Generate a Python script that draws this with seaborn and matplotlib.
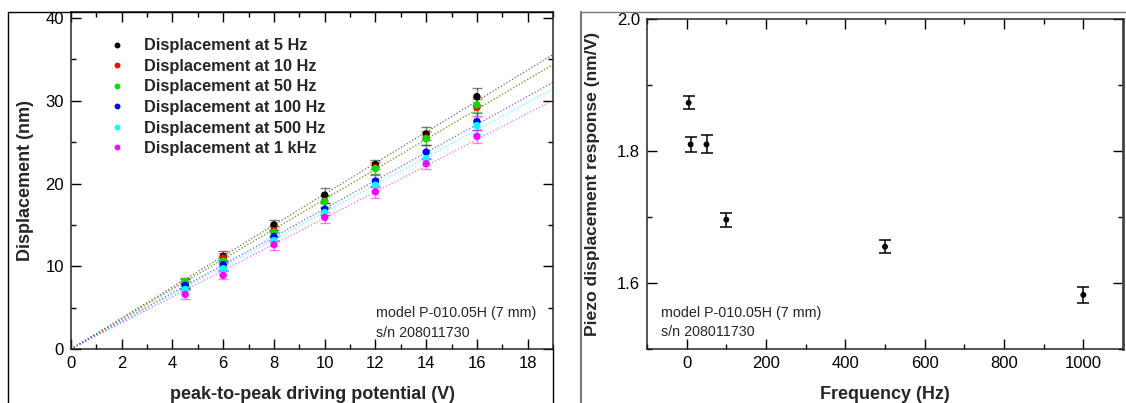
import numpy as np
import pandas as pd
import matplotlib
matplotlib.use("Agg")
import matplotlib.pyplot as plt
import seaborn as sns
from matplotlib.lines import Line2D
from matplotlib.ticker import MultipleLocator

# ---------------- data ----------------
voltage = [4.5, 6, 8, 10, 12, 14, 16]
series_labels = ["Displacement at 5 Hz", "Displacement at 10 Hz", "Displacement at 50 Hz",
                 "Displacement at 100 Hz", "Displacement at 500 Hz", "Displacement at 1 kHz"]
disp_5hz = [7.9, 11.2, 15.0, 18.6, 22.3, 26.0, 30.5]
disp_10hz = [8.0, 11.0, 14.3, 17.9, 21.9, 25.5, 29.2]
disp_50hz = [8.1, 10.6, 14.1, 17.8, 21.8, 25.4, 29.5]
disp_100hz = [7.7, 10.2, 13.6, 16.9, 20.3, 23.8, 27.5]
disp_500hz = [7.2, 9.7, 13.1, 16.5, 19.8, 23.0, 27.0]
disp_1khz = [6.6, 8.9, 12.6, 15.9, 19.0, 22.4, 25.7]
err_5hz = [0.5, 0.6, 0.6, 0.9, 0.6, 0.8, 1.0]
err_10hz = [0.6, 0.6, 0.6, 0.7, 0.7, 0.8, 1.0]
err_50hz = [0.5, 0.6, 0.6, 0.7, 0.7, 0.8, 0.9]
err_100hz = [0.5, 0.6, 0.6, 0.7, 0.7, 0.8, 1.0]
err_500hz = [0.5, 0.6, 0.6, 0.7, 0.7, 0.8, 1.0]
err_1khz = [0.5, 0.5, 0.6, 0.7, 0.7, 0.7, 0.8]

frequency = [5, 10, 50, 100, 500, 1000]
response = [1.873, 1.810, 1.810, 1.696, 1.655, 1.582]
response_err = [0.010, 0.0115, 0.0135, 0.0105, 0.010, 0.012]

annotation = ["model P-010.05H (7 mm)", "s/n 208011730"]

disp_all = [disp_5hz, disp_10hz, disp_50hz, disp_100hz, disp_500hz, disp_1khz]
err_all = [err_5hz, err_10hz, err_50hz, err_100hz, err_500hz, err_1khz]
colors = ["#000000", "#ff0000", "#00e000", "#0000ff", "#00ffff", "#ff00ff"]

# ---------------- style ----------------
sns.set_theme(style="ticks")
plt.rcParams["font.family"] = ["Liberation Sans", "DejaVu Sans"]
plt.rcParams["axes.linewidth"] = 1.1

W, H = 1126, 403
fig = plt.figure(figsize=(W / 100, H / 100), dpi=100)

def px_axes(l, t, r, b):
    return fig.add_axes([l / W, 1 - b / H, (r - l) / W, (b - t) / H])

LABEL_FS = 13
TICK_FS = 12
NOTE_FS = 10.3

# ---------------- left panel ----------------
ax1 = px_axes(71, 12, 553, 349)
rows = []
for lab, d in zip(series_labels, disp_all):
    for v, y in zip(voltage, d):
        rows.append({"V": v, "D": y, "series": lab})
df = pd.DataFrame(rows)

xfit = np.array([0, 19.0])
for slope, c in zip(response, colors):
    fit_df = pd.DataFrame({"V": xfit, "D": slope * xfit})
    sns.lineplot(data=fit_df, x="V", y="D", ax=ax1, color=c, lw=0.9,
                 linestyle=(0, (1, 1.6)), alpha=0.6, legend=False)

for d, e, c in zip(disp_all, err_all, colors):
    ax1.errorbar(voltage, d, yerr=e, fmt="none", ecolor=c, alpha=0.5,
                 elinewidth=1.0, capsize=3.5, capthick=1.0)

sns.scatterplot(data=df, x="V", y="D", hue="series", palette=colors,
                hue_order=series_labels, ax=ax1, s=28, edgecolor="none",
                legend=True, zorder=5)

ax1.set_xlim(0, 19)
ax1.set_ylim(0, 40.73)
ax1.xaxis.set_major_locator(MultipleLocator(2))
ax1.xaxis.set_minor_locator(MultipleLocator(1))
ax1.yaxis.set_major_locator(MultipleLocator(10))
ax1.yaxis.set_minor_locator(MultipleLocator(5))
ax1.set_xlabel("peak-to-peak driving potential (V)", fontsize=LABEL_FS, fontweight="bold", labelpad=11)
ax1.set_ylabel("Displacement (nm)", fontsize=LABEL_FS, fontweight="bold", labelpad=8)

handles, labels = ax1.get_legend_handles_labels()
leg = ax1.legend(handles, labels, loc="upper left", bbox_to_anchor=(0.081, 0.922),
                 frameon=False, borderpad=0, borderaxespad=0, handlelength=0.9,
                 handletextpad=1.15, labelspacing=0.34, markerscale=0.8,
                 prop={"weight": "bold", "size": 11.8, "family": "Liberation Sans"})

ax1.text(0.632, 0.108, annotation[0], transform=ax1.transAxes, fontsize=NOTE_FS, va="center")
ax1.text(0.632, 0.046, annotation[1], transform=ax1.transAxes, fontsize=NOTE_FS, va="center")

# ---------------- right panel ----------------
ax2 = px_axes(647, 19, 1123, 349)
ax2.errorbar(frequency, response, yerr=response_err, fmt="none", ecolor="black",
             elinewidth=1.1, capsize=4, capthick=1.1)
sns.scatterplot(x=frequency, y=response, ax=ax2, color="black", s=18,
                edgecolor="none", zorder=5)
ax2.set_xlim(-100, 1100)
ax2.set_ylim(1.5, 2.0)
ax2.xaxis.set_major_locator(MultipleLocator(200))
ax2.xaxis.set_minor_locator(MultipleLocator(100))
ax2.yaxis.set_major_locator(MultipleLocator(0.2))
ax2.yaxis.set_minor_locator(MultipleLocator(0.1))
ax2.set_yticks([1.6, 1.8, 2.0])
ax2.set_yticklabels(["1.6", "1.8", "2.0"])
ax2.set_xlabel("Frequency (Hz)", fontsize=LABEL_FS, fontweight="bold", labelpad=11)
ax2.set_ylabel("Piezo displacement response (nm/V)", fontsize=12.6, fontweight="bold", labelpad=12)
ax2.text(0.03, 0.11, annotation[0], transform=ax2.transAxes, fontsize=NOTE_FS, va="center")
ax2.text(0.03, 0.052, annotation[1], transform=ax2.transAxes, fontsize=NOTE_FS, va="center")
ax2.spines["right"].set_color("#444444")
ax2.spines["right"].set_linewidth(2.0)

for ax in (ax1, ax2):
    ax.tick_params(which="both", direction="in", top=True, right=True,
                   labelsize=TICK_FS, colors="black", pad=5)
    ax.tick_params(which="major", length=7, width=1.0)
    ax.tick_params(which="minor", length=3.5, width=1.0)
    for s in ax.spines.values():
        s.set_zorder(10)

# ---------------- panel frames ----------------
def fline(x0, y0, x1, y1, color="black", lw=1.0):
    fig.add_artist(Line2D([x0 / W, x1 / W], [1 - y0 / H, 1 - y1 / H],
                          transform=fig.transFigure, color=color, lw=lw))

fline(8, 12, 8, H)
fline(8, 12, 553, 12)
fline(553, 349, 553, H)
fline(581, 12, 581, H, color="#777777", lw=1.5)
fline(581, 12, W, 12, color="#777777", lw=1.0)

fig.savefig("out.png", dpi=100)
